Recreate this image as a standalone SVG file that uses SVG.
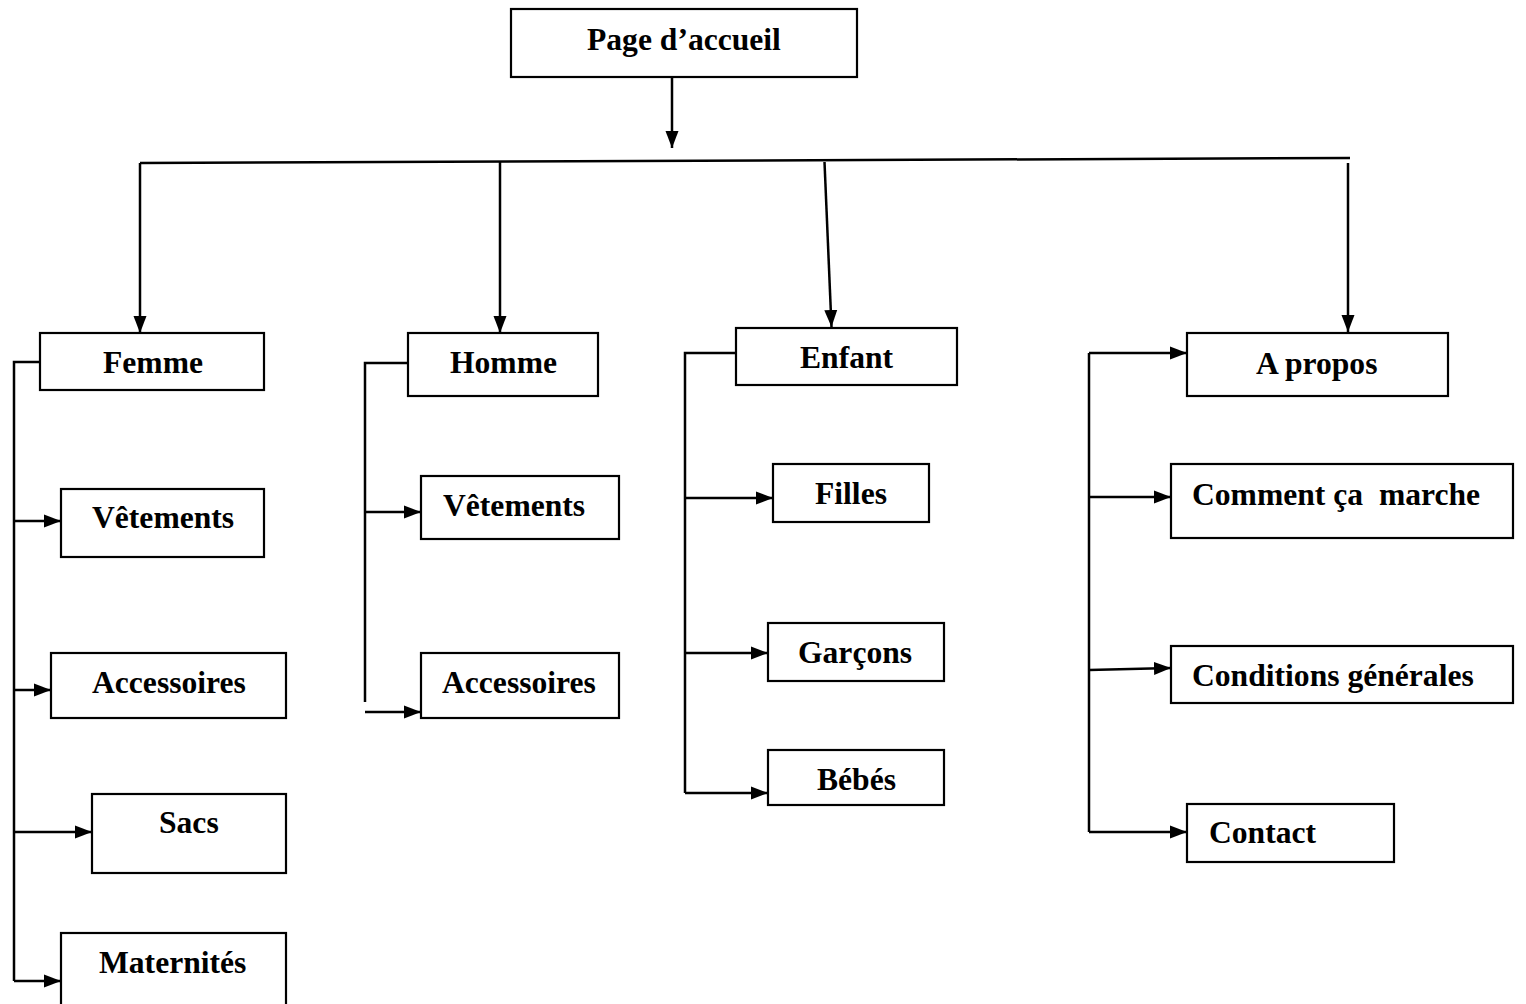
<svg xmlns="http://www.w3.org/2000/svg" width="1526" height="1004" viewBox="0 0 1526 1004">
<style>
  .box { fill: #ffffff; stroke: #000000; stroke-width: 2.2; }
  .lbl { font-family: "Liberation Serif", "Times New Roman", serif; font-weight: bold; font-size: 31.6px; fill: #000000; }
  .ln { fill: none; stroke: #000000; stroke-width: 2.5; }
  .arr { fill: none; stroke: #000000; stroke-width: 2.5; marker-end: url(#ah); }
</style>
<defs>
  <marker id="ah" markerUnits="userSpaceOnUse" markerWidth="18" markerHeight="14" refX="17" refY="7" orient="auto">
    <path d="M0,0.5 L17,7 L0,13.5 z" fill="#000000"/>
  </marker>
</defs>
<rect width="1526" height="1004" fill="#ffffff"/>
<g id="connectors">
  <line class="arr" x1="672" y1="77" x2="672" y2="148"/>
  <line class="ln" x1="140" y1="163" x2="1350" y2="158"/>
  <line class="arr" x1="140" y1="163" x2="140" y2="333"/>
  <line class="arr" x1="500" y1="162" x2="500" y2="333"/>
  <line class="arr" x1="824.5" y1="162" x2="831.5" y2="327"/>
  <line class="arr" x1="1348" y1="163" x2="1348" y2="332"/>
  <polyline class="ln" points="40,362 14,362 14,981"/>
  <line class="arr" x1="14" y1="521" x2="61" y2="521"/>
  <line class="arr" x1="14" y1="690" x2="51" y2="690"/>
  <line class="arr" x1="14" y1="832" x2="92" y2="832"/>
  <line class="arr" x1="14" y1="981" x2="61" y2="981"/>
  <polyline class="ln" points="408,363 365,363 365,702"/>
  <line class="arr" x1="365" y1="512" x2="421" y2="512"/>
  <line class="arr" x1="365" y1="712" x2="421" y2="712"/>
  <polyline class="ln" points="736,353 685,353 685,793"/>
  <line class="arr" x1="685" y1="498" x2="773" y2="498"/>
  <line class="arr" x1="685" y1="653" x2="768" y2="653"/>
  <line class="arr" x1="685" y1="793" x2="768" y2="793"/>
  <line class="ln" x1="1089" y1="353" x2="1089" y2="832"/>
  <line class="arr" x1="1089" y1="353" x2="1187" y2="353"/>
  <line class="arr" x1="1089" y1="497" x2="1171" y2="497"/>
  <line class="arr" x1="1089" y1="670" x2="1171" y2="668"/>
  <line class="arr" x1="1089" y1="832" x2="1187" y2="832"/>
</g>
<g id="page-accueil"><rect class="box" x="511" y="9" width="346" height="68"/><text class="lbl" x="587" y="50">Page d’accueil</text></g>
<g id="femme"><rect class="box" x="40" y="333" width="224" height="57"/><text class="lbl" x="103" y="373">Femme</text></g>
<g id="femme-vetements"><rect class="box" x="61" y="489" width="203" height="68"/><text class="lbl" x="92" y="528">Vêtements</text></g>
<g id="femme-accessoires"><rect class="box" x="51" y="653" width="235" height="65"/><text class="lbl" x="92" y="693">Accessoires</text></g>
<g id="sacs"><rect class="box" x="92" y="794" width="194" height="79"/><text class="lbl" x="159" y="833">Sacs</text></g>
<g id="maternites"><rect class="box" x="61" y="933" width="225" height="80"/><text class="lbl" x="99" y="973">Maternités</text></g>
<g id="homme"><rect class="box" x="408" y="333" width="190" height="63"/><text class="lbl" x="450" y="373">Homme</text></g>
<g id="homme-vetements"><rect class="box" x="421" y="476" width="198" height="63"/><text class="lbl" x="443" y="516">Vêtements</text></g>
<g id="homme-accessoires"><rect class="box" x="421" y="653" width="198" height="65"/><text class="lbl" x="442" y="693">Accessoires</text></g>
<g id="enfant"><rect class="box" x="736" y="328" width="221" height="57"/><text class="lbl" x="800" y="368">Enfant</text></g>
<g id="filles"><rect class="box" x="773" y="464" width="156" height="58"/><text class="lbl" x="815" y="504">Filles</text></g>
<g id="garcons"><rect class="box" x="768" y="623" width="176" height="58"/><text class="lbl" x="798" y="663">Garçons</text></g>
<g id="bebes"><rect class="box" x="768" y="750" width="176" height="55"/><text class="lbl" x="817" y="790">Bébés</text></g>
<g id="a-propos"><rect class="box" x="1187" y="333" width="261" height="63"/><text class="lbl" x="1256" y="374">A propos</text></g>
<g id="comment"><rect class="box" x="1171" y="464" width="342" height="74"/><text class="lbl" x="1192" y="505" xml:space="preserve">Comment ça  marche</text></g>
<g id="conditions"><rect class="box" x="1171" y="646" width="342" height="57"/><text class="lbl" x="1192" y="686">Conditions générales</text></g>
<g id="contact"><rect class="box" x="1187" y="804" width="207" height="58"/><text class="lbl" x="1209" y="843">Contact</text></g>
</svg>
